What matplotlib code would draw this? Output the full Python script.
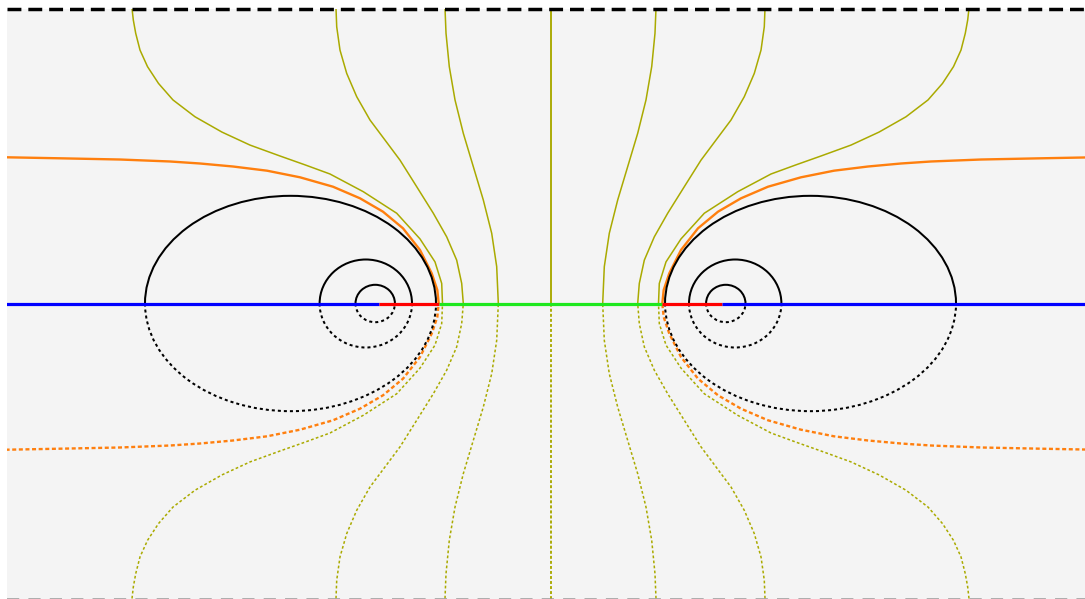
import matplotlib.pyplot as plt
from matplotlib.patches import Arc
import numpy as np

# strip |y| <= 1, symmetric about x = 0 and about the axis y = 0
# upper-left branches only; the other three quadrants are reflections

# olive flow lines (from top boundary down to the axis)
flow_a_x = [-1.4186, -1.4142, -1.4061, -1.3915, -1.3661, -1.3288, -1.2797, -1.2051,
            -1.1136, -1.0186, -0.9169, -0.8322, -0.7475, -0.6346, -0.5214, -0.4424,
            -0.3915, -0.3688, -0.3661]
flow_a_y = [1.0, 0.961, 0.916, 0.859, 0.803, 0.746, 0.690, 0.633,
            0.581, 0.537, 0.500, 0.470, 0.439, 0.379, 0.306, 0.219,
            0.141, 0.068, 0.0]

flow_b_x = [-0.7271, -0.7247, -0.7136, -0.6908, -0.6569, -0.6119, -0.5610, -0.5102,
            -0.4536, -0.3973, -0.3519, -0.3180, -0.3010, -0.2956]
flow_b_y = [1.0, 0.938, 0.859, 0.780, 0.701, 0.622, 0.554, 0.486,
            0.396, 0.306, 0.226, 0.147, 0.068, 0.0]

flow_c_x = [-0.3576, -0.3542, -0.3431, -0.3237, -0.2956, -0.2617, -0.2278, -0.1993,
            -0.1824, -0.1769]
flow_c_y = [1.0, 0.916, 0.803, 0.690, 0.577, 0.464, 0.351, 0.238, 0.125, 0.0]

flow_d_x = [0.0, 0.0]
flow_d_y = [1.0, 0.0]

# orange separatrix
sep_x = [-1.95, -1.8424, -1.6627, -1.4593, -1.2898, -1.1881, -1.0763, -0.9610,
         -0.8492, -0.7373, -0.6458, -0.5678, -0.5000, -0.4424, -0.4027, -0.3837,
         -0.3790]
sep_y = [0.4958, 0.4956, 0.4922, 0.4881, 0.4814, 0.4746, 0.4644, 0.4502,
         0.4278, 0.3959, 0.3566, 0.3112, 0.2549, 0.1814, 0.1024, 0.0458,
         0.0]

# black level curves: centre x, width, height
ring_cx = [-0.8814, -0.6261, -0.5942]
ring_w = [0.9864, 0.3132, 0.1336]
ring_h = [0.7300, 0.2983, 0.1268]

# axis segments
seg_edges = [-1.95, -0.580, -0.377, 0.377, 0.580, 1.95]
seg_colors = ['#0000ff', '#ff0000', '#1ee81e', '#ff0000', '#0000ff']

OLIVE = '#aaaa00'
ORANGE = '#ff7f0e'

fig = plt.figure(figsize=(10.85, 5.99), dpi=100)
ax = fig.add_axes([7 / 1085, 0.5 / 599, 1087 / 1085, 590 / 599])
ax.set_facecolor('#f4f4f4')
for s in ax.spines.values():
    s.set_visible(False)
ax.set_xticks([])
ax.set_yticks([])
xmax = 543.5 / 295
ax.set_xlim(-xmax, xmax)
ax.set_ylim(-1, 1)


def draw_branch(xs, ys, color, lw, dots):
    xs = np.asarray(xs)
    ys = np.asarray(ys)
    for sx in (1, -1):
        ax.plot(sx * xs, ys, color=color, lw=lw, solid_capstyle='butt',
                solid_joinstyle='round', zorder=2)
        ax.plot(sx * xs, -ys, color=color, lw=lw, ls=(0, dots), zorder=2)


for fx, fy in [(flow_a_x, flow_a_y), (flow_b_x, flow_b_y),
               (flow_c_x, flow_c_y), (flow_d_x, flow_d_y)]:
    draw_branch(fx, fy, OLIVE, 1.1, (1.8, 1.5))

draw_branch(sep_x, sep_y, ORANGE, 1.7, (1.7, 1.1))

for cx, w, h in zip(ring_cx, ring_w, ring_h):
    for sx in (1, -1):
        ax.add_patch(Arc((sx * cx, 0), w, h, theta1=0, theta2=180,
                         color='black', lw=1.45, zorder=2))
        ax.add_patch(Arc((sx * cx, 0), w, h, theta1=180, theta2=360,
                         color='black', lw=1.45, ls=(0, (1.5, 1.5)), zorder=2))

for i, c in enumerate(seg_colors):
    ax.plot(seg_edges[i:i + 2], [0, 0], color=c, lw=2.3,
            solid_capstyle='butt', zorder=3)

# strip boundaries
ax.axhline(1, color='black', lw=2.5, ls=(0, (4, 2)), clip_on=False, zorder=4)
ax.axhline(-1, color='#999999', lw=1.1, ls=(0, (8, 6)), clip_on=False, zorder=4)

fig.savefig('out.png', dpi=100)
